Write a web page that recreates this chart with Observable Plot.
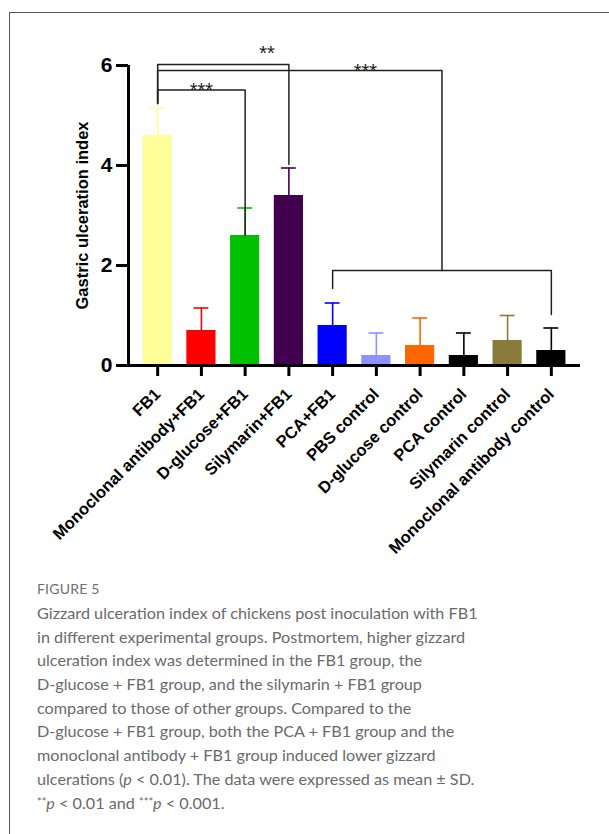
<!DOCTYPE html>
<html>
<head>
<meta charset="utf-8">
<script src="https://cdn.jsdelivr.net/npm/d3@7"></script>
<script src="https://cdn.jsdelivr.net/npm/@observablehq/plot@0.6"></script>
<style>
  html, body { margin: 0; padding: 0; background: #fff; }
  #wrap { position: relative; width: 609px; height: 834px; overflow: hidden; }
  #chart { position: absolute; left: 0; top: 0; }
  #border { position: absolute; left: 9px; top: 12px; right: -10px; bottom: -10px;
            border-top: 1.5px solid #555; border-left: 1.5px solid #555; z-index: 2; pointer-events: none; }
  #caption { position: absolute; left: 37px; top: 579px; font-family: Lato, "Open Sans", sans-serif;
             color: #6a6a6a; white-space: nowrap; }
  #fig { font-size: 14px; line-height: 20px; letter-spacing: 0.2px; color: #707070; }
  #text { font-size: 16.2px; line-height: 23.65px; margin-top: 2px; }
  #text i { font-style: italic; }
  .st { font-size: 11px; vertical-align: 3px; }
</style>
</head>
<body>
<div id="wrap">
  <div id="chart"></div>
  <div id="border"></div>
  <div id="caption">
    <div id="fig">FIGURE 5</div>
    <div id="text">
      Gizzard ulceration index of chickens post inoculation with FB1<br>
      in different experimental groups. Postmortem, higher gizzard<br>
      ulceration index was determined in the FB1 group, the<br>
      D-glucose + FB1 group, and the silymarin + FB1 group<br>
      compared to those of other groups. Compared to the<br>
      D-glucose + FB1 group, both the PCA + FB1 group and the<br>
      monoclonal antibody + FB1 group induced lower gizzard<br>
      ulcerations (<i>p</i> &lt; 0.01). The data were expressed as mean ± SD.<br>
      <span class="st">**</span><i>p</i> &lt; 0.01 and <span class="st">***</span><i>p</i> &lt; 0.001.
    </div>
  </div>
</div>
<script>
// ---- data ----
const groups = ["FB1", "Monoclonal antibody+FB1", "D-glucose+FB1", "Silymarin+FB1", "PCA+FB1",
  "PBS control", "D-glucose control", "PCA control", "Silymarin control", "Monoclonal antibody control"];
const means = [4.6, 0.7, 2.6, 3.4, 0.8, 0.2, 0.4, 0.2, 0.5, 0.3];
const sds = [0.55, 0.45, 0.55, 0.55, 0.45, 0.45, 0.55, 0.45, 0.5, 0.45];
const colors = ["#ffff99", "#ff0000", "#00c000", "#42004f", "#0000ff", "#9090ff", "#ff6600", "#000000", "#8b7b3a", "#000000"];
const yTicks = [0, 2, 4, 6];

// significance brackets (x in group index units, y in data units)
const bracketX = [[0, 0, 3, 3], [0, 0, 6.5, 6.5], [0, 0, 2, 2], [4, 4, 9, 9]];
const bracketY = [[5.24, 6.02, 6.02, 4.02], [5.24, 5.9, 5.9, 1.9], [5.24, 5.51, 5.51, 2.6], [1.54, 1.9, 1.9, 1.02]];
const starLabels = ["**", "***", "***"];
const starX = [2.5, 4.75, 1];
const starY = [6.24, 5.87, 5.49];

// ---- derived tables ----
const bars = groups.map((g, i) => ({i, g, mean: means[i], sd: sds[i], color: colors[i]}));
const bracketPts = bracketX.flatMap((xs, k) => xs.map((x, j) => ({k, x, y: bracketY[k][j]})));
const stars = starLabels.map((s, k) => ({s, x: starX[k], y: starY[k]}));

const halfBar = 1 / 3, halfCap = 0.17;
const xDomain = [-2 / 3, groups.length - 1 + 2 / 3];
const font = "'Liberation Sans', Arial, sans-serif";

const plot = Plot.plot({
  width: 609,
  height: 575,
  marginTop: 65,
  marginBottom: 210,
  marginLeft: 128,
  marginRight: 29,
  style: {fontFamily: font, background: "transparent", overflow: "visible"},
  x: {domain: xDomain, axis: null},
  y: {domain: [0, 6], axis: null},
  marks: [
    Plot.rectY(bars, {x1: d => d.i - halfBar, x2: d => d.i + halfBar, y1: 0, y2: "mean", fill: "color"}),
    Plot.ruleX(bars, {x: "i", y1: "mean", y2: d => d.mean + d.sd, stroke: "color", strokeWidth: 1.6}),
    Plot.ruleY(bars, {y: d => d.mean + d.sd, x1: d => d.i - halfCap, x2: d => d.i + halfCap, stroke: "color", strokeWidth: 1.6}),
    Plot.line(bracketPts, {x: "x", y: "y", z: "k", stroke: "#222", strokeWidth: 1.5, curve: "step-after"}),
    Plot.text(stars, {x: "x", y: "y", text: "s", fontSize: 20, fill: "#222", lineAnchor: "middle"}),
    Plot.ruleY([0], {stroke: "#000", strokeWidth: 3}),
    Plot.ruleX([xDomain[0]], {y1: 0, y2: 6, stroke: "#000", strokeWidth: 3}),
    Plot.axisY({ticks: yTicks, tickFormat: d3.format("d"), tickSize: 12, tickPadding: 4, fontSize: 21, fontWeight: "bold",
      strokeWidth: 3, stroke: "#000", fill: "#000", label: null}),
    Plot.axisX({ticks: d3.range(groups.length), tickFormat: i => groups[i], tickRotate: -45,
      tickSize: 11, tickPadding: 15, fontSize: 16.5, fontWeight: "bold", strokeWidth: 3, stroke: "#000", fill: "#000", label: null}),
    Plot.text(["Gastric ulceration index"], {frameAnchor: "left", textAnchor: "middle", rotate: -90, dx: -46,
      fontSize: 16.5, fontWeight: "bold", fill: "#000"})
  ]
});
document.getElementById("chart").appendChild(plot);
</script>
</body>
</html>
